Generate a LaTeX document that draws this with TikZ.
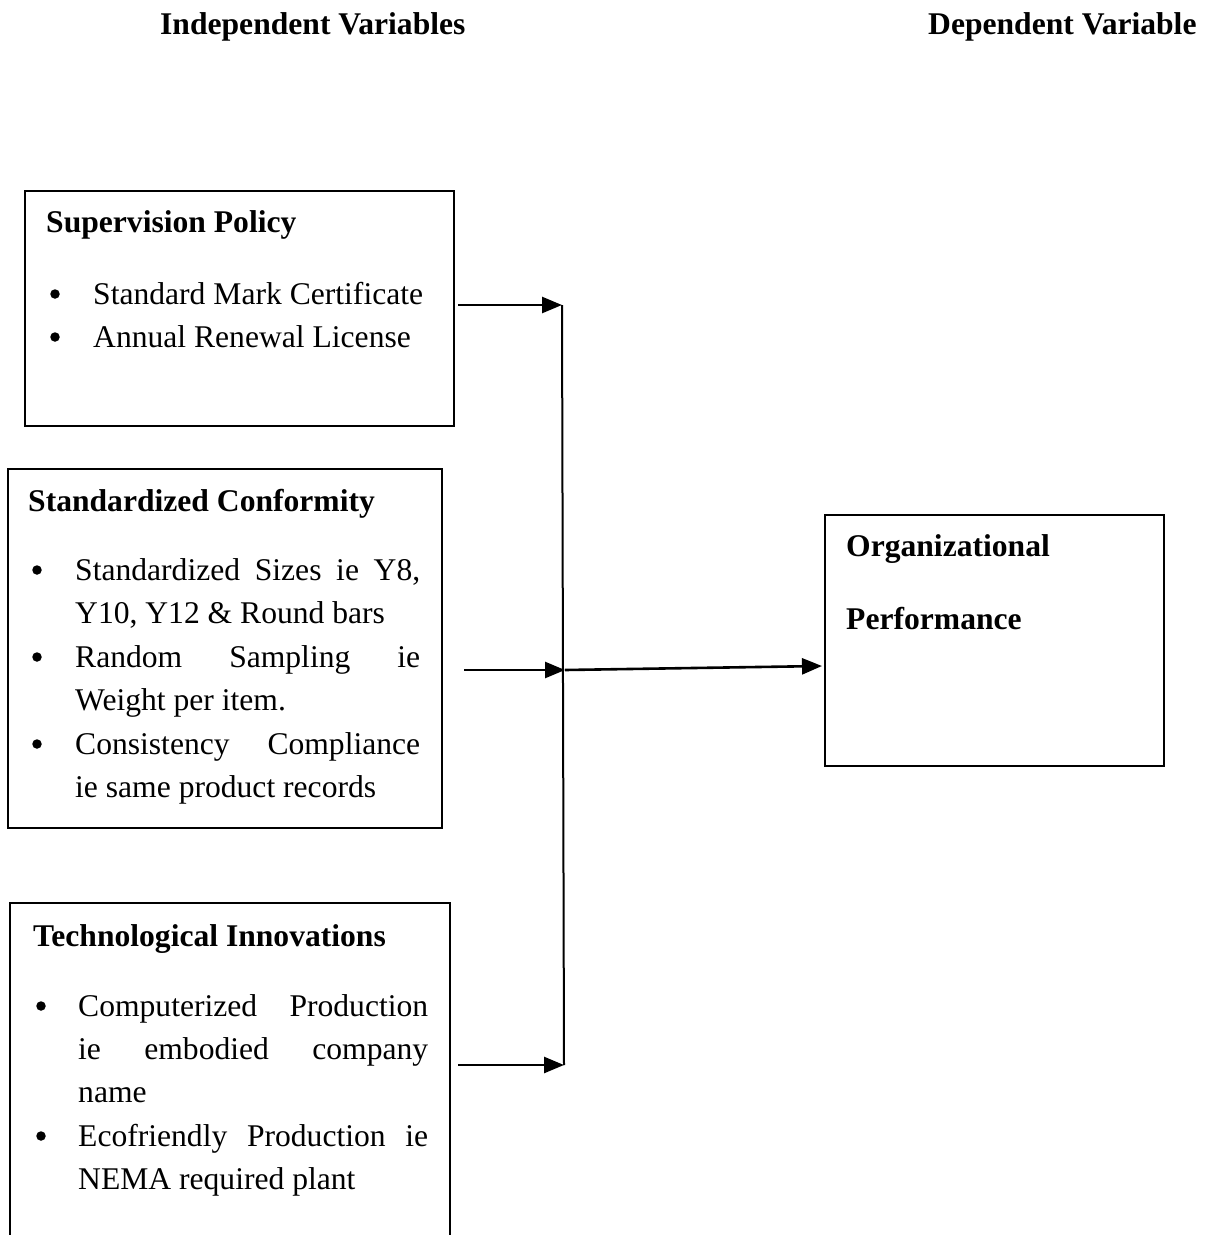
\documentclass[tikz,border=0pt]{standalone}
\usepackage{fontspec}
\setmainfont{Liberation Serif}
\usetikzlibrary{arrows.meta}
\tikzset{
  txt/.style={anchor=base west, inner sep=0pt, font=\fontsize{31.6}{43}\selectfont},
  hdr/.style={txt, font=\fontsize{31.6}{43}\selectfont\bfseries},
  bul/.style={circle, fill=black, inner sep=0pt, minimum size=9.5pt},
  boxframe/.style={draw, line width=2pt, inner sep=0pt, anchor=north west},
  openframe/.style={line width=2pt},
  arr/.style={line width=2.6pt, -{Triangle[length=20pt,width=16pt]}},
  trunk/.style={line width=2pt}
}
\newcommand{\jline}[2]{\makebox[#1][s]{#2}}
\begin{document}
\begin{tikzpicture}[x=1pt,y=-1pt]
\useasboundingbox (0,0) rectangle (1206,1235);
\fill[white] (0,0) rectangle (1206,1235);

% headers
\node[hdr] (hind) at (160,34) {Independent Variables};
\node[hdr] (hdep) at (928,34) {Dependent Variable};

% box 1
\node[boxframe, minimum width=429pt, minimum height=235pt] (b1) at (24,190) {};
\node[hdr] (t1) at (46,232) {Supervision Policy};
\node[bul] (u11) at (55,294) {};
\node[txt] (l11) at (93,304) {Standard Mark Certificate};
\node[bul] (u12) at (55,337) {};
\node[txt] (l12) at (93,347) {Annual Renewal License};

% box 2
\node[boxframe, minimum width=434pt, minimum height=359pt] (b2) at (7,468) {};
\node[hdr] (t2) at (28,511) {Standardized Conformity};
\node[bul] (u21) at (37,570) {};
\node[txt] (l21) at (75,580) {\jline{345pt}{Standardized Sizes ie Y8,}};
\node[txt] (l22) at (75,623) {Y10, Y12 \& Round bars};
\node[bul] (u22) at (37,657) {};
\node[txt] (l23) at (75,667) {\jline{345pt}{Random Sampling ie}};
\node[txt] (l24) at (75,710) {Weight per item.};
\node[bul] (u23) at (37,744) {};
\node[txt] (l25) at (75,754) {\jline{345pt}{Consistency Compliance}};
\node[txt] (l26) at (75,797) {ie same product records};

% box 3 (open at the bottom)
\node[inner sep=0pt, minimum width=440pt, minimum height=332pt, anchor=north west] (b3) at (10,903) {};
\draw[openframe] (b3.south west) -- (b3.north west) -- (b3.north east) -- (b3.south east);
\node[hdr] (t3) at (33,946) {Technological Innovations};
\node[bul] (u31) at (41,1006) {};
\node[txt] (l31) at (78,1016) {\jline{350pt}{Computerized Production}};
\node[txt] (l32) at (78,1059) {\jline{350pt}{ie embodied company}};
\node[txt] (l33) at (78,1102) {name};
\node[bul] (u32) at (41,1136) {};
\node[txt] (l34) at (78,1146) {\jline{350pt}{Ecofriendly Production ie}};
\node[txt] (l35) at (78,1189) {NEMA required plant};

% box 4
\node[boxframe, minimum width=339pt, minimum height=251pt] (b4) at (824,514) {};
\node[hdr] (t41) at (846,556) {Organizational};
\node[hdr] (t42) at (846,629) {Performance};

% connectors
\coordinate (s1) at (458,305);
\coordinate (s2) at (464,670);
\coordinate (s3) at (458,1065);
\coordinate (j1) at (562,305);
\coordinate (j2) at (565,670);
\coordinate (j3) at (564,1065);
\coordinate (e4) at (822,666);
\draw[trunk] (j1) -- (j3);
\draw[arr] (s1) -- (j1);
\draw[arr] (s2) -- (j2);
\draw[arr] (s3) -- (j3);
\draw[arr] (j2) -- (e4);
\end{tikzpicture}
\end{document}
